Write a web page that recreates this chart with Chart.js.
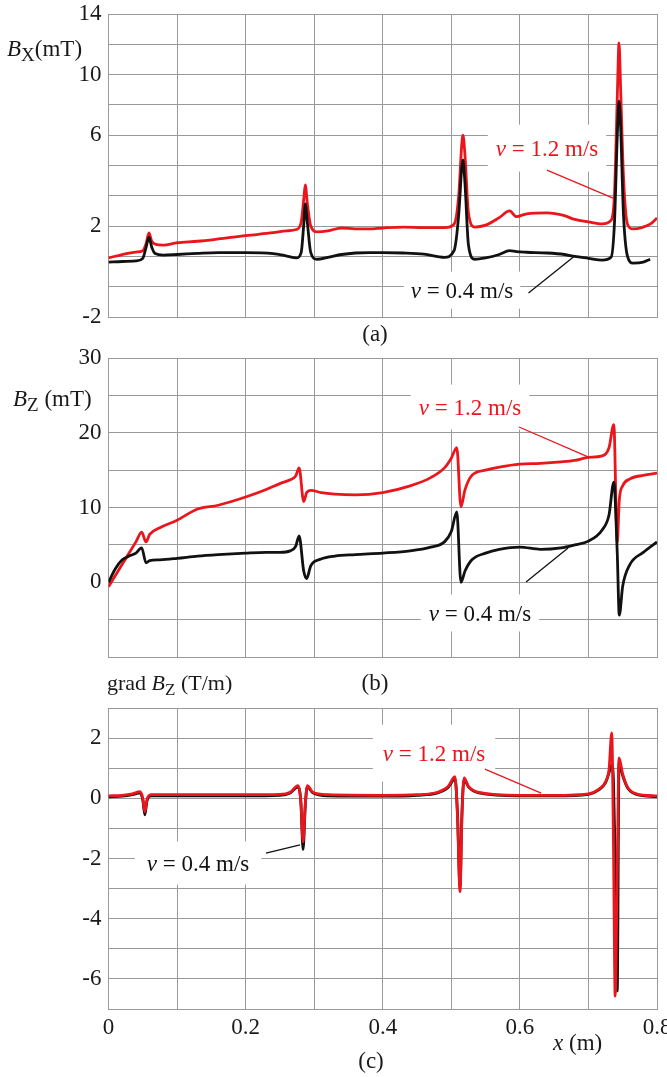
<!DOCTYPE html>
<html><head><meta charset="utf-8">
<script src="https://cdn.jsdelivr.net/npm/chart.js@4/dist/chart.umd.min.js"></script>
<style>
html,body{margin:0;padding:0;background:#fff;}
body{width:667px;height:1077px;position:relative;overflow:hidden;font-family:"Liberation Serif","Times New Roman",serif;color:#1a1a1a;}
canvas{position:absolute;left:0;}
.t{position:absolute;font-size:23px;line-height:1;white-space:nowrap;}
.c{width:100px;text-align:center;}
.sub{font-size:19px;position:relative;top:5px;}
</style></head><body>
<canvas id="ca" width="667" height="330" style="top:0px"></canvas>
<canvas id="cb" width="667" height="330" style="top:340px"></canvas>
<canvas id="cc" width="667" height="387" style="top:690px"></canvas>

<div class="t" style="left:7px;top:37px"><i>B</i><span class="sub">X</span>(mT)</div>
<div class="t" style="left:13px;top:387px"><i>B</i><span class="sub">Z</span> (mT)</div>
<div class="t" style="left:107px;top:672px;font-size:22px">grad <i>B</i><span class="sub" style="font-size:17px">Z</span> (T/m)</div>
<div class="t c" style="left:325px;top:322px">(a)</div>
<div class="t c" style="left:325px;top:671px">(b)</div>
<div class="t c" style="left:321px;top:1049px">(c)</div>
<div class="t" style="left:553px;top:1031px"><i>x</i> (m)</div>

<script>
// ---------- DATA ----------
// x positions (m)
const xA = [0, 0.02, 0.04, 0.05, 0.055, 0.059, 0.063, 0.068, 0.08, 0.1,
  0.13, 0.16, 0.2, 0.24, 0.26, 0.274, 0.281, 0.285, 0.287, 0.29,
  0.295, 0.304, 0.32, 0.34, 0.36, 0.38, 0.4, 0.43, 0.46, 0.49,
  0.504, 0.511, 0.515, 0.517, 0.52, 0.525, 0.534, 0.55, 0.57, 0.585,
  0.595, 0.61, 0.64, 0.665, 0.68, 0.7, 0.72, 0.733, 0.738, 0.742,
  0.7446, 0.747, 0.751, 0.757, 0.765, 0.78, 0.79, 0.8];
const bxFast = [1.12, 1.3, 1.43, 1.5, 1.9, 2.44, 2.0, 1.85, 1.8, 1.92,
  2.0, 2.12, 2.3, 2.45, 2.55, 2.62, 3.0, 4.3, 4.97, 4.0,
  2.8, 2.5, 2.55, 2.7, 2.65, 2.65, 2.7, 2.75, 2.72, 2.72,
  2.9, 4.5, 7.0, 7.6, 6.5, 3.5, 2.75, 2.85, 3.25, 3.6,
  3.3, 3.45, 3.5, 3.35, 3.15, 3.02, 2.92, 3.1, 4.5, 9.5,
  12.47, 10.0, 5.5, 2.9, 2.65, 2.75, 2.9, 3.23];
const bxSlow = [0.9, 0.93, 0.96, 1.1, 1.7, 2.22, 1.7, 1.35, 1.27, 1.3,
  1.36, 1.4, 1.4, 1.35, 1.22, 1.12, 1.4, 3.0, 3.97, 3.0,
  1.4, 1.05, 1.15, 1.3, 1.38, 1.4, 1.4, 1.38, 1.32, 1.15,
  1.5, 3.5, 5.8, 6.3, 5.0, 1.8, 1.05, 1.12, 1.3, 1.5,
  1.45, 1.42, 1.38, 1.3, 1.2, 1.1, 1.0, 1.15, 3.0, 7.5,
  9.4, 8.0, 3.5, 1.2, 0.85, 0.9, 1.05, null];

const xB = [0, 0.01, 0.02, 0.03, 0.04, 0.0484, 0.0547, 0.06, 0.075, 0.1,
  0.13, 0.16, 0.2, 0.23, 0.25, 0.265, 0.273, 0.278, 0.2847, 0.289,
  0.295, 0.31, 0.33, 0.36, 0.4, 0.44, 0.47, 0.49, 0.5, 0.508,
  0.514, 0.52, 0.53, 0.55, 0.57, 0.6, 0.63, 0.66, 0.68, 0.7,
  0.72, 0.73, 0.737, 0.742, 0.745, 0.75, 0.76, 0.78, 0.8];
const bzFast = [-0.6, 0.9, 2.4, 3.9, 5.4, 6.7, 5.4, 6.4, 7.3, 8.3,
  9.8, 10.3, 11.4, 12.4, 13.2, 13.7, 14.2, 15.3, 10.8, 12.0,
  12.3, 12.0, 11.8, 11.7, 12.0, 12.9, 14.0, 15.3, 16.6, 18.0,
  10.1, 12.4, 14.3, 15.0, 15.4, 15.8, 15.9, 16.1, 16.3, 16.7,
  16.9, 18.0, 21.1, 5.25, 11.0, 12.9, 13.8, 14.3, 14.6];
const bzSlow = [0.0, 1.8, 3.0, 3.5, 3.9, 4.6, 2.6, 2.9, 3.0, 3.2,
  3.5, 3.7, 3.9, 4.0, 4.0, 4.2, 4.8, 6.2, 1.5, 0.5,
  2.2, 3.1, 3.5, 3.7, 3.9, 4.2, 4.7, 5.4, 6.8, 9.4,
  0.0, 1.5, 3.0, 3.9, 4.4, 4.7, 4.4, 4.6, 5.0, 5.5,
  7.0, 9.0, 13.4, 4.0, -4.4, -0.5, 2.3, 4.0, 5.4];

const xC = [0, 0.02, 0.035, 0.046, 0.05, 0.053, 0.056, 0.062, 0.08, 0.15,
  0.2, 0.25, 0.265, 0.2764, 0.2805, 0.2838, 0.287, 0.29, 0.298, 0.32,
  0.4, 0.45, 0.48, 0.495, 0.5054, 0.509, 0.5127, 0.5155, 0.5186, 0.525,
  0.54, 0.6, 0.65, 0.7, 0.715, 0.725, 0.73, 0.734, 0.7365, 0.739,
  0.742, 0.7446, 0.75, 0.757, 0.77, 0.8];
const gradFast = [0.08, 0.1, 0.15, 0.22, 0.0, -0.45, -0.05, 0.12, 0.12, 0.12,
  0.12, 0.13, 0.2, 0.42, -0.1, -1.45, -0.2, 0.42, 0.2, 0.12,
  0.1, 0.12, 0.2, 0.38, 0.72, -0.6, -3.1, -0.6, 0.68, 0.4,
  0.2, 0.1, 0.1, 0.15, 0.3, 0.55, 0.95, 2.17, -1.5, -6.57,
  -2.5, 1.34, 0.8, 0.37, 0.15, 0.08];
const gradSlow = [0.05, 0.07, 0.12, 0.18, -0.05, -0.55, -0.1, 0.08, 0.08, 0.08,
  0.08, 0.1, 0.18, 0.38, -0.1, -1.7, -0.25, 0.38, 0.18, 0.08,
  0.07, 0.1, 0.18, 0.35, 0.65, -0.5, -2.95, -0.5, 0.62, 0.38,
  0.18, 0.08, 0.08, 0.13, 0.28, 0.52, 0.85, 1.1, 0.6, -2.0,
  -6.4, 1.15, 0.75, 0.35, 0.13, 0.06];

// tick labels (bottom to top)
const yLabelsA = ['-2', '', '', '2', '', '', '6', '', '10', '', '14'];
const yLabelsB = ['', '', '0', '', '10', '', '20', '', '30'];
const yLabelsC = ['', '-6', '', '-4', '', '-2', '', '0', '', '2', ''];
const xLabels = ['0', '', '0.2', '', '0.4', '', '0.6', '', '0.8'];

const labelFast = 'v = 1.2 m/s';
const labelSlow = 'v = 0.4 m/s';

// ---------- STYLE ----------
const RED = 'rgb(234,22,28)';
const BLACK = '#111';
const GRID = '#999999';
const FONT_FAMILY = "'Liberation Serif', 'Times New Roman', serif";
Chart.defaults.font.family = FONT_FAMILY;
Chart.defaults.color = '#1a1a1a';

// annotations, anchored in data coordinates
const notesA = [
  {text: labelFast, color: RED, x: 0.6396, y: 6.92, padX: 8, padY: 12, from: [0.6395, 5.76], to: [0.7359, 4.28]},
  {text: labelSlow, color: BLACK, x: 0.5157, y: -0.58, padX: 7, padY: 7, from: [0.6126, -0.73], to: [0.6781, 1.17]}
];
const notesB = [
  {text: labelFast, color: RED, x: 0.5273, y: 23.44, padX: 8, padY: 11, from: [0.5987, 20.77], to: [0.6995, 16.76]},
  {text: labelSlow, color: BLACK, x: 0.5417, y: -4.11, padX: 8, padY: 7, from: [0.609, 0.03], to: [0.6703, 4.58]}
];
const notesC = [
  {text: labelFast, color: RED, x: 0.4748, y: 1.5, padX: 10, padY: 17, from: [0.549, 0.97], to: [0.631, 0.17]},
  {text: labelSlow, color: BLACK, x: 0.1306, y: -2.15, padX: 12, padY: 10, from: [0.2297, -1.82], to: [0.2794, -1.55]}
];

function makeNotes(items) {
  const FS = 23;
  function widths(ctx, t) {
    ctx.font = 'italic ' + FS + 'px ' + FONT_FAMILY;
    const w1 = ctx.measureText(t[0]).width;
    ctx.font = FS + 'px ' + FONT_FAMILY;
    const w2 = ctx.measureText(t.slice(1)).width;
    return [w1, w2];
  }
  return {
    id: 'notes',
    beforeDatasetsDraw(chart) {
      const ctx = chart.ctx, sx = chart.scales.x, sy = chart.scales.y;
      ctx.save();
      items.forEach(n => {
        const [w1, w2] = widths(ctx, n.text);
        const w = w1 + w2;
        const cx = sx.getPixelForValue(n.x), cy = sy.getPixelForValue(n.y);
        ctx.fillStyle = '#fff';
        ctx.fillRect(cx - w / 2 - n.padX, cy - FS / 2 - n.padY, w + 2 * n.padX, FS + 2 * n.padY);
      });
      ctx.restore();
    },
    afterDatasetsDraw(chart) {
      const ctx = chart.ctx, sx = chart.scales.x, sy = chart.scales.y;
      ctx.save();
      items.forEach(n => {
        ctx.strokeStyle = n.color;
        ctx.lineWidth = 1.3;
        ctx.beginPath();
        ctx.moveTo(sx.getPixelForValue(n.from[0]), sy.getPixelForValue(n.from[1]));
        ctx.lineTo(sx.getPixelForValue(n.to[0]), sy.getPixelForValue(n.to[1]));
        ctx.stroke();
        const [w1, w2] = widths(ctx, n.text);
        const cx = sx.getPixelForValue(n.x), cy = sy.getPixelForValue(n.y);
        const x0 = cx - (w1 + w2) / 2;
        ctx.fillStyle = n.color;
        ctx.textBaseline = 'alphabetic';
        ctx.textAlign = 'left';
        const base = cy + FS * 0.33;
        ctx.font = 'italic ' + FS + 'px ' + FONT_FAMILY;
        ctx.fillText(n.text[0], x0, base);
        ctx.font = FS + 'px ' + FONT_FAMILY;
        ctx.fillText(n.text.slice(1), x0 + w1, base);
      });
      ctx.restore();
    }
  };
}

function pts(xs, ys) { return xs.map((x, i) => ({x: x, y: ys[i]})); }

function makeChart(id, cfg) {
  const ds = [
    {label: labelSlow, data: pts(cfg.x, cfg.slow), borderColor: BLACK, order: cfg.redTop ? 2 : 1},
    {label: labelFast, data: pts(cfg.x, cfg.fast), borderColor: RED, order: cfg.redTop ? 1 : 2}
  ].map(d => Object.assign(d, {borderWidth: 2.8, pointRadius: 0, cubicInterpolationMode: 'monotone', fill: false, spanGaps: false}));
  return new Chart(document.getElementById(id), {
    type: 'line',
    data: {datasets: ds},
    options: {
      responsive: false,
      animation: false,
      events: [],
      layout: {padding: {top: cfg.padTop, right: 10, left: 0, bottom: 0}},
      plugins: {legend: {display: false}, tooltip: {enabled: false}},
      scales: {
        x: {
          type: 'linear', min: 0, max: 0.8,
          grid: {color: GRID, lineWidth: 1, drawTicks: false},
          border: {color: GRID},
          ticks: {
            display: cfg.showX, stepSize: 0.1, autoSkip: false, maxRotation: 0, padding: 5,
            font: {size: 23, family: FONT_FAMILY}, color: '#1a1a1a',
            callback: (v, i) => xLabels[i]
          },
          afterFit: s => { s.height = cfg.xHeight; s.paddingLeft = 0; s.paddingRight = 0; }
        },
        y: {
          type: 'linear', min: cfg.ymin, max: cfg.ymax,
          grid: {color: GRID, lineWidth: 1, drawTicks: false},
          border: {color: GRID},
          ticks: {
            stepSize: cfg.step, autoSkip: false, maxTicksLimit: 30, padding: 7,
            font: {size: 23, family: FONT_FAMILY}, color: '#1a1a1a',
            callback: (v, i) => cfg.labels[i]
          },
          afterFit: s => { s.width = 108.5; s.paddingTop = 0; s.paddingBottom = 0; }
        }
      }
    },
    plugins: [makeNotes(cfg.notes)]
  });
}

function drawAll() {
  makeChart('ca', {x: xA, fast: bxFast, slow: bxSlow, ymin: -2, ymax: 14, step: 1.6, labels: yLabelsA,
    padTop: 14, xHeight: 13, showX: false, notes: notesA, redTop: false});
  makeChart('cb', {x: xB, fast: bzFast, slow: bzSlow, ymin: -10, ymax: 30, step: 5, labels: yLabelsB,
    padTop: 18, xHeight: 13, showX: false, notes: notesB, redTop: false});
  makeChart('cc', {x: xC, fast: gradFast, slow: gradSlow, ymin: -7, ymax: 3, step: 1, labels: yLabelsC,
    padTop: 18, xHeight: 68, showX: true, notes: notesC, redTop: true});
}

let drawn = false;
function once() { if (!drawn) { drawn = true; drawAll(); } }
if (document.fonts && document.fonts.load) {
  Promise.all([
    document.fonts.load("23px 'Liberation Serif'"),
    document.fonts.load("italic 23px 'Liberation Serif'")
  ]).then(once, once);
  setTimeout(once, 1500);
} else {
  once();
}
</script>
</body></html>
